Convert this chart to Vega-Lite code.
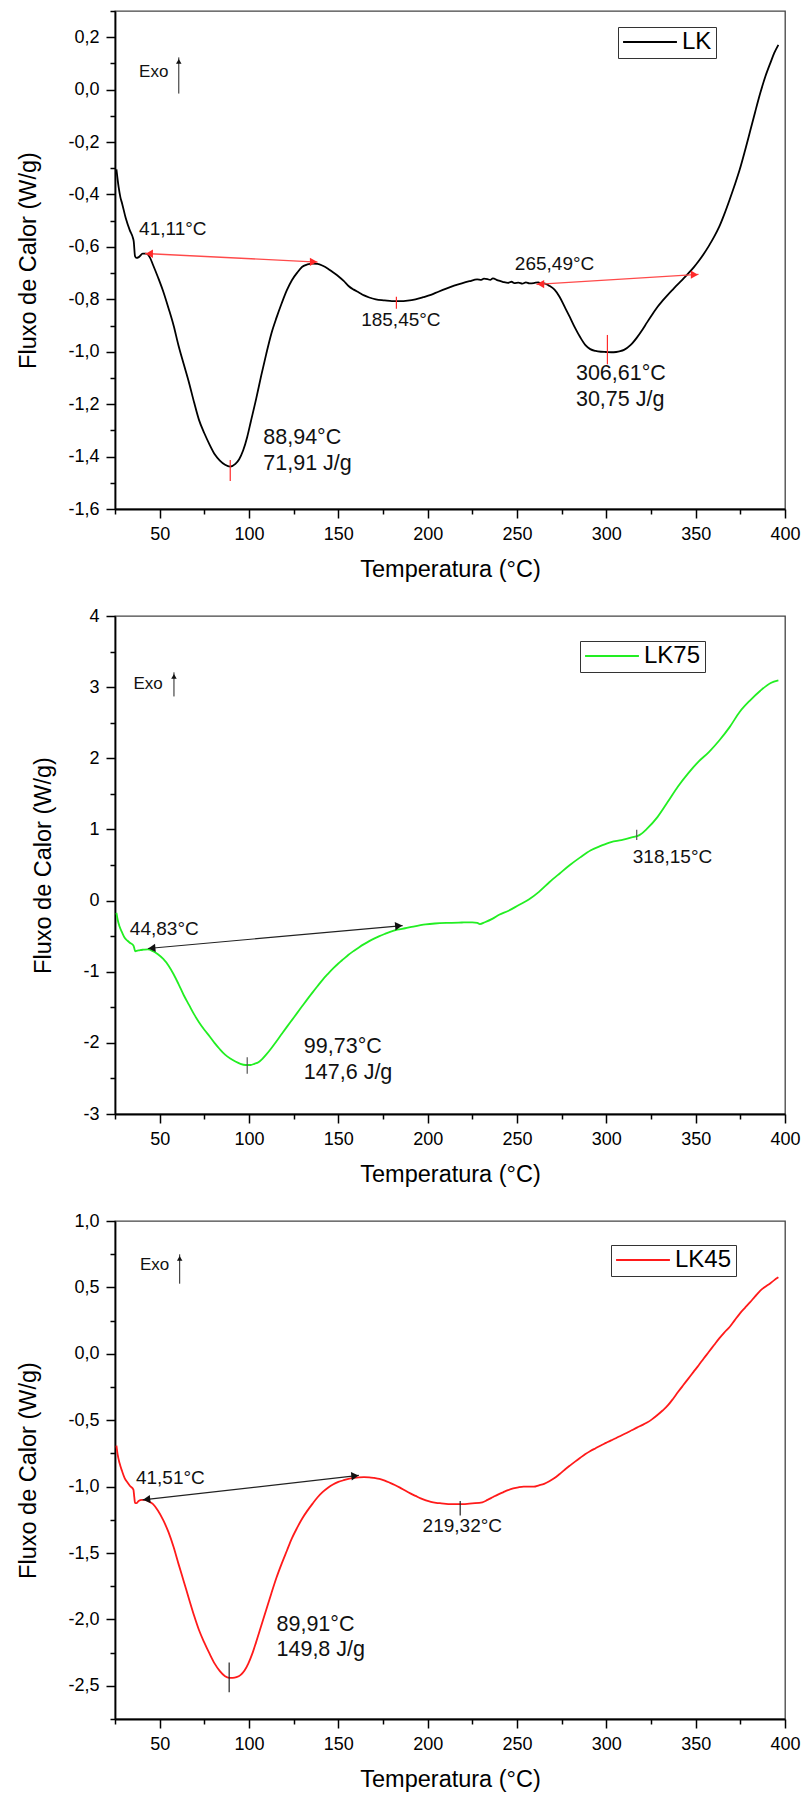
{
  "$schema": "https://vega.github.io/schema/vega-lite/v6.json",
  "padding": {"left": 16, "top": 1, "right": 2, "bottom": 2},
  "background": "white",
  "bounds": "flush",
  "spacing": 107,
  "resolve": {"scale": {"color": "independent", "shape": "independent"}, "legend": {"color": "independent"}},
  "config": {
    "font": "Liberation Sans",
    "view": {"stroke": "#444", "strokeWidth": 1.3},
    "axis": {
      "domainColor": "#000", "domainWidth": 1.8, "tickColor": "#000", "tickWidth": 1.5,
      "labelFont": "Liberation Sans", "labelFontSize": 18, "labelColor": "#000",
      "titleFont": "Liberation Sans", "titleFontSize": 23.5, "titleFontWeight": "normal", "titleColor": "#000",
      "grid": false, "labelOverlap": false, "labelFlush": false
    },
    "legend": {
      "orient": "none", "title": null, "symbolType": "stroke", "symbolSize": 2900, "symbolStrokeWidth": 2,
      "labelFont": "Liberation Sans", "labelFontSize": 24, "labelColor": "#000",
      "strokeColor": "#333", "fillColor": "white", "padding": 4, "clipHeight": 22
    }
  },
  "datasets": {
    "lk": [
      {"series":"LK","T":25.8,"v":-0.304},{"series":"LK","T":27,"v":-0.37},{"series":"LK","T":28,"v":-0.41},{"series":"LK","T":29,"v":-0.435},
      {"series":"LK","T":31,"v":-0.49},{"series":"LK","T":33.3,"v":-0.537},{"series":"LK","T":35,"v":-0.565},{"series":"LK","T":35.5,"v":-0.58},
      {"series":"LK","T":36.2,"v":-0.635},{"series":"LK","T":37,"v":-0.642},{"series":"LK","T":38.5,"v":-0.638},{"series":"LK","T":40.5,"v":-0.626},
      {"series":"LK","T":42.5,"v":-0.626},{"series":"LK","T":44.5,"v":-0.64},{"series":"LK","T":46.3,"v":-0.669},{"series":"LK","T":49,"v":-0.715},
      {"series":"LK","T":52,"v":-0.77},{"series":"LK","T":55,"v":-0.835},{"series":"LK","T":57.8,"v":-0.9},{"series":"LK","T":60.5,"v":-0.975},
      {"series":"LK","T":63.5,"v":-1.048},{"series":"LK","T":66.5,"v":-1.12},{"series":"LK","T":69.3,"v":-1.194},{"series":"LK","T":72,"v":-1.26},
      {"series":"LK","T":75,"v":-1.311},{"series":"LK","T":78,"v":-1.355},{"series":"LK","T":80.8,"v":-1.391},{"series":"LK","T":83.7,"v":-1.415},
      {"series":"LK","T":86.6,"v":-1.431},{"series":"LK","T":89.5,"v":-1.438},{"series":"LK","T":92.4,"v":-1.428},{"series":"LK","T":94.5,"v":-1.41},
      {"series":"LK","T":96.7,"v":-1.377},{"series":"LK","T":99,"v":-1.325},{"series":"LK","T":101,"v":-1.267},{"series":"LK","T":104,"v":-1.18},
      {"series":"LK","T":106.8,"v":-1.092},{"series":"LK","T":109.6,"v":-1.01},{"series":"LK","T":112.5,"v":-0.931},{"series":"LK","T":115.4,"v":-0.87},
      {"series":"LK","T":118.3,"v":-0.815},{"series":"LK","T":121.2,"v":-0.765},{"series":"LK","T":124,"v":-0.727},{"series":"LK","T":127,"v":-0.698},
      {"series":"LK","T":129.8,"v":-0.676},{"series":"LK","T":132.7,"v":-0.667},{"series":"LK","T":135.6,"v":-0.664},{"series":"LK","T":138.4,"v":-0.665},
      {"series":"LK","T":141.3,"v":-0.672},{"series":"LK","T":144.2,"v":-0.683},{"series":"LK","T":147,"v":-0.697},{"series":"LK","T":150,"v":-0.712},
      {"series":"LK","T":153,"v":-0.73},{"series":"LK","T":155.7,"v":-0.749},{"series":"LK","T":158.6,"v":-0.763},{"series":"LK","T":161.5,"v":-0.774},
      {"series":"LK","T":164.4,"v":-0.785},{"series":"LK","T":167.3,"v":-0.793},{"series":"LK","T":171,"v":-0.8},{"series":"LK","T":175.9,"v":-0.804},
      {"series":"LK","T":180,"v":-0.807},{"series":"LK","T":184.5,"v":-0.807},{"series":"LK","T":188.8,"v":-0.805},{"series":"LK","T":193.2,"v":-0.8},
      {"series":"LK","T":197.5,"v":-0.792},{"series":"LK","T":201.8,"v":-0.783},{"series":"LK","T":206,"v":-0.771},{"series":"LK","T":210.4,"v":-0.759},
      {"series":"LK","T":214.8,"v":-0.748},{"series":"LK","T":219.1,"v":-0.739},{"series":"LK","T":223.4,"v":-0.731},{"series":"LK","T":227.7,"v":-0.724},
      {"series":"LK","T":230,"v":-0.726},{"series":"LK","T":231.5,"v":-0.721},{"series":"LK","T":233.5,"v":-0.723},{"series":"LK","T":235,"v":-0.726},
      {"series":"LK","T":236.5,"v":-0.72},{"series":"LK","T":239.3,"v":-0.728},{"series":"LK","T":242,"v":-0.733},{"series":"LK","T":245,"v":-0.737},
      {"series":"LK","T":247,"v":-0.733},{"series":"LK","T":248.5,"v":-0.738},{"series":"LK","T":250.8,"v":-0.736},{"series":"LK","T":253,"v":-0.74},
      {"series":"LK","T":255,"v":-0.735},{"series":"LK","T":257,"v":-0.739},{"series":"LK","T":259.4,"v":-0.738},{"series":"LK","T":262,"v":-0.735},
      {"series":"LK","T":263.5,"v":-0.74},{"series":"LK","T":265.2,"v":-0.739},{"series":"LK","T":268,"v":-0.748},{"series":"LK","T":271,"v":-0.763},
      {"series":"LK","T":273.8,"v":-0.79},{"series":"LK","T":276.7,"v":-0.829},{"series":"LK","T":279.6,"v":-0.868},{"series":"LK","T":282.5,"v":-0.909},
      {"series":"LK","T":285.4,"v":-0.945},{"series":"LK","T":288.3,"v":-0.975},{"series":"LK","T":291,"v":-0.99},{"series":"LK","T":294,"v":-0.997},
      {"series":"LK","T":297,"v":-1.0},{"series":"LK","T":299.8,"v":-1.001},{"series":"LK","T":302.7,"v":-1.002},{"series":"LK","T":305.5,"v":-1.001},
      {"series":"LK","T":307.8,"v":-0.998},{"series":"LK","T":309.9,"v":-0.993},{"series":"LK","T":313.5,"v":-0.975},{"series":"LK","T":317.1,"v":-0.946},
      {"series":"LK","T":320,"v":-0.918},{"series":"LK","T":322.8,"v":-0.888},{"series":"LK","T":325.7,"v":-0.858},{"series":"LK","T":328.6,"v":-0.829},
      {"series":"LK","T":331.5,"v":-0.805},{"series":"LK","T":334.4,"v":-0.783},{"series":"LK","T":337.3,"v":-0.762},{"series":"LK","T":340.1,"v":-0.742},
      {"series":"LK","T":343,"v":-0.722},{"series":"LK","T":345.9,"v":-0.701},{"series":"LK","T":348.8,"v":-0.679},{"series":"LK","T":351.7,"v":-0.654},
      {"series":"LK","T":354.5,"v":-0.627},{"series":"LK","T":357.4,"v":-0.596},{"series":"LK","T":360.3,"v":-0.562},{"series":"LK","T":363.2,"v":-0.523},
      {"series":"LK","T":366,"v":-0.476},{"series":"LK","T":369,"v":-0.42},{"series":"LK","T":371.8,"v":-0.365},{"series":"LK","T":374.7,"v":-0.304},
      {"series":"LK","T":377.6,"v":-0.233},{"series":"LK","T":380.5,"v":-0.158},{"series":"LK","T":383.3,"v":-0.085},{"series":"LK","T":386.2,"v":-0.012},
      {"series":"LK","T":389,"v":0.05},{"series":"LK","T":392,"v":0.105},{"series":"LK","T":394,"v":0.14},{"series":"LK","T":396.3,"v":0.171}
    ],
    "lk75": [
      {"series":"LK75","T":25.8,"v":-0.173},{"series":"LK75","T":26.5,"v":-0.27},{"series":"LK75","T":27.5,"v":-0.362},{"series":"LK75","T":29,"v":-0.45},
      {"series":"LK75","T":30.4,"v":-0.523},{"series":"LK75","T":32,"v":-0.565},{"series":"LK75","T":33.3,"v":-0.593},{"series":"LK75","T":35.3,"v":-0.631},
      {"series":"LK75","T":35.8,"v":-0.67},{"series":"LK75","T":36.3,"v":-0.712},{"series":"LK75","T":37.5,"v":-0.705},{"series":"LK75","T":39,"v":-0.696},
      {"series":"LK75","T":41,"v":-0.69},{"series":"LK75","T":43.4,"v":-0.685},{"series":"LK75","T":46.3,"v":-0.712},{"series":"LK75","T":49,"v":-0.755},
      {"series":"LK75","T":52,"v":-0.82},{"series":"LK75","T":55,"v":-0.915},{"series":"LK75","T":57.8,"v":-1.035},{"series":"LK75","T":60.5,"v":-1.17},
      {"series":"LK75","T":63.5,"v":-1.331},{"series":"LK75","T":66.5,"v":-1.47},{"series":"LK75","T":69.3,"v":-1.6},{"series":"LK75","T":72,"v":-1.71},
      {"series":"LK75","T":75,"v":-1.816},{"series":"LK75","T":78,"v":-1.91},{"series":"LK75","T":80.8,"v":-2.004},{"series":"LK75","T":83.7,"v":-2.09},
      {"series":"LK75","T":86.6,"v":-2.166},{"series":"LK75","T":89.5,"v":-2.22},{"series":"LK75","T":92.4,"v":-2.263},{"series":"LK75","T":95.2,"v":-2.295},
      {"series":"LK75","T":98.1,"v":-2.311},{"series":"LK75","T":101,"v":-2.311},{"series":"LK75","T":103,"v":-2.295},{"series":"LK75","T":105.3,"v":-2.273},
      {"series":"LK75","T":107.5,"v":-2.225},{"series":"LK75","T":109.6,"v":-2.166},{"series":"LK75","T":112.5,"v":-2.075},{"series":"LK75","T":115.4,"v":-1.977},
      {"series":"LK75","T":118.3,"v":-1.875},{"series":"LK75","T":121.2,"v":-1.775},{"series":"LK75","T":124,"v":-1.68},{"series":"LK75","T":126.9,"v":-1.582},
      {"series":"LK75","T":129.8,"v":-1.483},{"series":"LK75","T":132.7,"v":-1.385},{"series":"LK75","T":135.6,"v":-1.29},{"series":"LK75","T":138.4,"v":-1.2},
      {"series":"LK75","T":141.3,"v":-1.11},{"series":"LK75","T":144.2,"v":-1.03},{"series":"LK75","T":147.1,"v":-0.954},{"series":"LK75","T":150,"v":-0.885},
      {"series":"LK75","T":153,"v":-0.82},{"series":"LK75","T":155.7,"v":-0.762},{"series":"LK75","T":158.6,"v":-0.708},{"series":"LK75","T":161.5,"v":-0.658},
      {"series":"LK75","T":164.4,"v":-0.612},{"series":"LK75","T":167.3,"v":-0.57},{"series":"LK75","T":170,"v":-0.535},{"series":"LK75","T":173,"v":-0.5},
      {"series":"LK75","T":175.9,"v":-0.47},{"series":"LK75","T":179,"v":-0.44},{"series":"LK75","T":183,"v":-0.41},{"series":"LK75","T":187.4,"v":-0.389},
      {"series":"LK75","T":192,"v":-0.365},{"series":"LK75","T":198.9,"v":-0.335},{"series":"LK75","T":204,"v":-0.322},{"series":"LK75","T":210.5,"v":-0.313},
      {"series":"LK75","T":219.1,"v":-0.308},{"series":"LK75","T":225,"v":-0.306},{"series":"LK75","T":227.8,"v":-0.312},{"series":"LK75","T":229.2,"v":-0.33},
      {"series":"LK75","T":232,"v":-0.305},{"series":"LK75","T":236.4,"v":-0.254},{"series":"LK75","T":240,"v":-0.2},{"series":"LK75","T":245,"v":-0.146},
      {"series":"LK75","T":250.8,"v":-0.066},{"series":"LK75","T":256.6,"v":0.015},{"series":"LK75","T":262.3,"v":0.123},{"series":"LK75","T":268.1,"v":0.257},
      {"series":"LK75","T":273.9,"v":0.381},{"series":"LK75","T":279.6,"v":0.5},{"series":"LK75","T":285.4,"v":0.607},{"series":"LK75","T":291.1,"v":0.704},
      {"series":"LK75","T":296.9,"v":0.769},{"series":"LK75","T":302.7,"v":0.823},{"series":"LK75","T":308.4,"v":0.85},{"series":"LK75","T":314.2,"v":0.887},
      {"series":"LK75","T":318.5,"v":0.92},{"series":"LK75","T":322.8,"v":1.011},{"series":"LK75","T":328.6,"v":1.173},{"series":"LK75","T":334.4,"v":1.388},
      {"series":"LK75","T":340.1,"v":1.604},{"series":"LK75","T":345.9,"v":1.792},{"series":"LK75","T":351.6,"v":1.954},{"series":"LK75","T":357.4,"v":2.088},
      {"series":"LK75","T":363.2,"v":2.25},{"series":"LK75","T":369,"v":2.438},{"series":"LK75","T":374.7,"v":2.654},{"series":"LK75","T":380.5,"v":2.815},
      {"series":"LK75","T":386.2,"v":2.95},{"series":"LK75","T":392,"v":3.058},{"series":"LK75","T":396.3,"v":3.095}
    ],
    "lk45": [
      {"series":"LK45","T":25.8,"v":-0.691},{"series":"LK45","T":26.5,"v":-0.76},{"series":"LK45","T":27.5,"v":-0.821},{"series":"LK45","T":29,"v":-0.885},
      {"series":"LK45","T":30.4,"v":-0.936},{"series":"LK45","T":32,"v":-0.97},{"series":"LK45","T":33.3,"v":-0.994},{"series":"LK45","T":35.3,"v":-1.022},
      {"series":"LK45","T":35.8,"v":-1.08},{"series":"LK45","T":36.2,"v":-1.123},{"series":"LK45","T":37,"v":-1.125},{"series":"LK45","T":38.2,"v":-1.109},
      {"series":"LK45","T":40,"v":-1.1},{"series":"LK45","T":41.9,"v":-1.1},{"series":"LK45","T":44,"v":-1.112},{"series":"LK45","T":46.3,"v":-1.132},
      {"series":"LK45","T":49,"v":-1.18},{"series":"LK45","T":52,"v":-1.253},{"series":"LK45","T":55,"v":-1.345},{"series":"LK45","T":57.8,"v":-1.455},
      {"series":"LK45","T":60.5,"v":-1.58},{"series":"LK45","T":63.5,"v":-1.714},{"series":"LK45","T":66.5,"v":-1.85},{"series":"LK45","T":69.3,"v":-1.973},
      {"series":"LK45","T":72,"v":-2.08},{"series":"LK45","T":75,"v":-2.175},{"series":"LK45","T":78,"v":-2.26},{"series":"LK45","T":80.8,"v":-2.333},
      {"series":"LK45","T":83.7,"v":-2.39},{"series":"LK45","T":86.6,"v":-2.428},{"series":"LK45","T":88.9,"v":-2.44},{"series":"LK45","T":90.9,"v":-2.44},
      {"series":"LK45","T":93,"v":-2.435},{"series":"LK45","T":95.2,"v":-2.42},{"series":"LK45","T":97.5,"v":-2.385},{"series":"LK45","T":99.6,"v":-2.333},
      {"series":"LK45","T":101.8,"v":-2.26},{"series":"LK45","T":103.9,"v":-2.175},{"series":"LK45","T":106.8,"v":-2.05},{"series":"LK45","T":109.6,"v":-1.93},
      {"series":"LK45","T":112.5,"v":-1.805},{"series":"LK45","T":115.4,"v":-1.685},{"series":"LK45","T":118.3,"v":-1.58},{"series":"LK45","T":121.2,"v":-1.483},
      {"series":"LK45","T":124,"v":-1.39},{"series":"LK45","T":126.9,"v":-1.311},{"series":"LK45","T":129.8,"v":-1.24},{"series":"LK45","T":132.7,"v":-1.181},
      {"series":"LK45","T":135.6,"v":-1.128},{"series":"LK45","T":138.4,"v":-1.08},{"series":"LK45","T":141.3,"v":-1.04},{"series":"LK45","T":144.2,"v":-1.008},
      {"series":"LK45","T":147,"v":-0.984},{"series":"LK45","T":150,"v":-0.965},{"series":"LK45","T":153,"v":-0.952},{"series":"LK45","T":155.7,"v":-0.942},
      {"series":"LK45","T":158.6,"v":-0.935},{"series":"LK45","T":161.5,"v":-0.93},{"series":"LK45","T":164.4,"v":-0.928},{"series":"LK45","T":167.3,"v":-0.93},
      {"series":"LK45","T":170,"v":-0.935},{"series":"LK45","T":173,"v":-0.942},{"series":"LK45","T":176,"v":-0.955},{"series":"LK45","T":178.8,"v":-0.971},
      {"series":"LK45","T":181.6,"v":-0.988},{"series":"LK45","T":184.5,"v":-1.008},{"series":"LK45","T":187.4,"v":-1.03},{"series":"LK45","T":190.3,"v":-1.051},
      {"series":"LK45","T":193.2,"v":-1.07},{"series":"LK45","T":196.1,"v":-1.089},{"series":"LK45","T":199,"v":-1.104},{"series":"LK45","T":201.8,"v":-1.115},
      {"series":"LK45","T":204.7,"v":-1.122},{"series":"LK45","T":207.6,"v":-1.126},{"series":"LK45","T":213.4,"v":-1.132},{"series":"LK45","T":219.1,"v":-1.132},
      {"series":"LK45","T":224.9,"v":-1.126},{"series":"LK45","T":230.6,"v":-1.118},{"series":"LK45","T":233.5,"v":-1.1},{"series":"LK45","T":236.4,"v":-1.08},
      {"series":"LK45","T":239.3,"v":-1.06},{"series":"LK45","T":242.2,"v":-1.043},{"series":"LK45","T":245,"v":-1.027},{"series":"LK45","T":247.9,"v":-1.014},
      {"series":"LK45","T":250.8,"v":-1.005},{"series":"LK45","T":253.7,"v":-1.0},{"series":"LK45","T":256.6,"v":-1.0},{"series":"LK45","T":259.4,"v":-1.0},
      {"series":"LK45","T":262.3,"v":-0.99},{"series":"LK45","T":265.2,"v":-0.979},{"series":"LK45","T":268.1,"v":-0.96},{"series":"LK45","T":271,"v":-0.936},
      {"series":"LK45","T":273.9,"v":-0.905},{"series":"LK45","T":276.7,"v":-0.873},{"series":"LK45","T":279.6,"v":-0.842},{"series":"LK45","T":282.5,"v":-0.812},
      {"series":"LK45","T":285.4,"v":-0.783},{"series":"LK45","T":288.3,"v":-0.755},{"series":"LK45","T":291.1,"v":-0.732},{"series":"LK45","T":294,"v":-0.711},
      {"series":"LK45","T":296.9,"v":-0.69},{"series":"LK45","T":299.8,"v":-0.671},{"series":"LK45","T":302.7,"v":-0.652},{"series":"LK45","T":305.6,"v":-0.634},
      {"series":"LK45","T":308.4,"v":-0.615},{"series":"LK45","T":311.3,"v":-0.596},{"series":"LK45","T":314.2,"v":-0.576},{"series":"LK45","T":317.1,"v":-0.556},
      {"series":"LK45","T":320,"v":-0.537},{"series":"LK45","T":322.8,"v":-0.518},{"series":"LK45","T":325.7,"v":-0.492},{"series":"LK45","T":328.6,"v":-0.461},
      {"series":"LK45","T":331.5,"v":-0.427},{"series":"LK45","T":334.4,"v":-0.389},{"series":"LK45","T":337.3,"v":-0.34},{"series":"LK45","T":340.1,"v":-0.288},
      {"series":"LK45","T":343,"v":-0.237},{"series":"LK45","T":345.9,"v":-0.187},{"series":"LK45","T":348.8,"v":-0.136},{"series":"LK45","T":351.7,"v":-0.086},
      {"series":"LK45","T":354.5,"v":-0.035},{"series":"LK45","T":357.4,"v":0.015},{"series":"LK45","T":360.3,"v":0.066},{"series":"LK45","T":363.2,"v":0.116},
      {"series":"LK45","T":366,"v":0.16},{"series":"LK45","T":369,"v":0.202},{"series":"LK45","T":371.8,"v":0.252},{"series":"LK45","T":374.7,"v":0.303},
      {"series":"LK45","T":377.6,"v":0.346},{"series":"LK45","T":380.5,"v":0.389},{"series":"LK45","T":383.3,"v":0.433},{"series":"LK45","T":386.2,"v":0.476},
      {"series":"LK45","T":389,"v":0.505},{"series":"LK45","T":392,"v":0.533},{"series":"LK45","T":394,"v":0.555},{"series":"LK45","T":396.3,"v":0.576}
    ],
    "ann1": [
      {"kind":"arrow","T":41.9,"v":-0.625,"T2":138.4,"v2":-0.658},
      {"kind":"arrow","T":260.9,"v":-0.743,"T2":351.6,"v2":-0.705},
      {"kind":"head","T":44.2,"v":-0.626,"dir":"left"},
      {"kind":"head","T":136.1,"v":-0.657,"dir":"right"},
      {"kind":"head","T":263.2,"v":-0.742,"dir":"left"},
      {"kind":"head","T":349.3,"v":-0.706,"dir":"right"},
      {"kind":"mark","T":89.5,"v":-1.413,"v2":-1.493},
      {"kind":"mark","T":182.5,"v":-0.79,"v2":-0.836},
      {"kind":"mark","T":300.6,"v":-0.936,"v2":-1.048},
      {"kind":"small","T":38.5,"v":-0.533,"text":"41,11°C"},
      {"kind":"small","T":248.8,"v":-0.666,"text":"265,49°C"},
      {"kind":"center","T":185,"v":-0.88,"text":"185,45°C"},
      {"kind":"big","T":108,"v":-1.33,"text":"88,94°C"},
      {"kind":"big","T":108,"v":-1.43,"text":"71,91 J/g"},
      {"kind":"big","T":283,"v":-1.085,"text":"306,61°C"},
      {"kind":"big","T":283,"v":-1.184,"text":"30,75 J/g"},
      {"kind":"exo","T":38.5,"v":0.069,"text":"Exo"},
      {"kind":"exoline","T":60.7,"v":-0.015,"v2":0.123},
      {"kind":"exohead","T":60.7,"v":0.108,"dir":"up"}
    ],
    "ann2": [
      {"kind":"arrow","T":43.4,"v":-0.674,"T2":186,"v2":-0.351},
      {"kind":"head","T":45.6,"v":-0.669,"dir":"left"},
      {"kind":"head","T":183.8,"v":-0.356,"dir":"right"},
      {"kind":"mark","T":99,"v":-2.204,"v2":-2.435},
      {"kind":"mark","T":317,"v":0.85,"v2":0.995},
      {"kind":"small","T":33.3,"v":-0.405,"text":"44,83°C"},
      {"kind":"small","T":314.8,"v":0.618,"text":"318,15°C"},
      {"kind":"big","T":130.7,"v":-2.058,"text":"99,73°C"},
      {"kind":"big","T":130.7,"v":-2.424,"text":"147,6 J/g"},
      {"kind":"exo","T":35.3,"v":3.047,"text":"Exo"},
      {"kind":"exoline","T":58,"v":2.869,"v2":3.208},
      {"kind":"exohead","T":58,"v":3.15,"dir":"up"}
    ],
    "ann3": [
      {"kind":"arrow","T":40.5,"v":-1.1,"T2":161.5,"v2":-0.916},
      {"kind":"head","T":42.7,"v":-1.097,"dir":"left"},
      {"kind":"head","T":159.3,"v":-0.919,"dir":"right"},
      {"kind":"mark","T":88.9,"v":-2.325,"v2":-2.549},
      {"kind":"mark","T":218.2,"v":-1.109,"v2":-1.218},
      {"kind":"small","T":36.7,"v":-0.936,"text":"41,51°C"},
      {"kind":"center","T":219.4,"v":-1.296,"text":"219,32°C"},
      {"kind":"big","T":115.4,"v":-2.045,"text":"89,91°C"},
      {"kind":"big","T":115.4,"v":-2.232,"text":"149,8 J/g"},
      {"kind":"exo","T":39,"v":0.669,"text":"Exo"},
      {"kind":"exoline","T":61.2,"v":0.528,"v2":0.749},
      {"kind":"exohead","T":61.2,"v":0.719,"dir":"up"}
    ]
  },
  "vconcat": [
    {
      "width": 670, "height": 498,
      "encoding": {
        "x": {"field": "T", "type": "quantitative", "scale": {"domain": [25, 400], "nice": false, "zero": false},
          "axis": {"title": "Temperatura (°C)", "values": [25,50,75,100,125,150,175,200,225,250,275,300,325,350,375,400],
            "labelExpr": "datum.value % 50 === 0 ? format(datum.value, 'd') : ''",
            "tickSize": {"condition": {"test": "datum.value % 50 === 0", "value": 9}, "value": 5},
            "labelPadding": 7, "titlePadding": 14}},
        "y": {"field": "v", "type": "quantitative", "scale": {"domain": [-1.6, 0.3], "nice": false, "zero": false},
          "axis": {"title": "Fluxo de Calor (W/g)", "values": [-1.6,-1.5,-1.4,-1.3,-1.2,-1.1,-1.0,-0.9,-0.8,-0.7,-0.6,-0.5,-0.4,-0.3,-0.2,-0.1,0,0.1,0.2,0.3],
            "labelExpr": "abs(round(datum.value*5) - datum.value*5) < 0.01 ? replace(replace(format(datum.value, '.1f'), '.', ','), '\u2212', '-') : ''",
            "tickSize": {"condition": {"test": "abs(round(datum.value*5) - datum.value*5) < 0.01", "value": 9}, "value": 5},
            "labelPadding": 7, "titlePadding": 27}}
      },
      "layer": [
        {"data": {"name": "lk"}, "mark": {"type": "line", "strokeWidth": 1.8, "interpolate": "monotone"},
          "encoding": {"color": {"field": "series", "type": "nominal", "scale": {"domain": ["LK"], "range": ["#000000"]},
            "legend": {"legendX": 503, "legendY": 16}}}},
        {"data": {"name": "ann1"}, "transform": [{"filter": "datum.kind === 'arrow'"}], "mark": {"type": "rule", "color": "#ff4a4a", "strokeWidth": 1.4},
          "encoding": {"x2": {"field": "T2"}, "y2": {"field": "v2"}}},
        {"data": {"name": "ann1"}, "transform": [{"filter": "datum.kind === 'head'"}], "mark": {"type": "point", "filled": true, "opacity": 1, "color": "#ff2a2a", "size": 70},
          "encoding": {"shape": {"field": "dir", "type": "nominal", "scale": {"domain": ["left", "right", "up"], "range": ["triangle-left", "triangle-right", "triangle-up"]}, "legend": null}}},
        {"data": {"name": "ann1"}, "transform": [{"filter": "datum.kind === 'mark'"}], "mark": {"type": "rule", "color": "#ff2a2a", "strokeWidth": 1.2},
          "encoding": {"y2": {"field": "v2"}}},
        {"data": {"name": "ann1"}, "transform": [{"filter": "datum.kind === 'small'"}], "mark": {"type": "text", "align": "left", "baseline": "middle", "fontSize": 19, "color": "#111"},
          "encoding": {"text": {"field": "text"}}},
        {"data": {"name": "ann1"}, "transform": [{"filter": "datum.kind === 'center'"}], "mark": {"type": "text", "align": "center", "baseline": "middle", "fontSize": 19, "color": "#111"},
          "encoding": {"text": {"field": "text"}}},
        {"data": {"name": "ann1"}, "transform": [{"filter": "datum.kind === 'big'"}], "mark": {"type": "text", "align": "left", "baseline": "middle", "fontSize": 21.5, "color": "#111"},
          "encoding": {"text": {"field": "text"}}},
        {"data": {"name": "ann1"}, "transform": [{"filter": "datum.kind === 'exo'"}], "mark": {"type": "text", "align": "left", "baseline": "middle", "fontSize": 17, "color": "#111"},
          "encoding": {"text": {"field": "text"}}},
        {"data": {"name": "ann1"}, "transform": [{"filter": "datum.kind === 'exoline'"}], "mark": {"type": "rule", "color": "#222", "strokeWidth": 1},
          "encoding": {"y2": {"field": "v2"}}},
        {"data": {"name": "ann1"}, "transform": [{"filter": "datum.kind === 'exohead'"}], "mark": {"type": "point", "filled": true, "opacity": 1, "color": "#111", "size": 30},
          "encoding": {"shape": {"field": "dir", "type": "nominal", "legend": null}}}
      ]
    },
    {
      "width": 670, "height": 498,
      "encoding": {
        "x": {"field": "T", "type": "quantitative", "scale": {"domain": [25, 400], "nice": false, "zero": false},
          "axis": {"title": "Temperatura (°C)", "values": [25,50,75,100,125,150,175,200,225,250,275,300,325,350,375,400],
            "labelExpr": "datum.value % 50 === 0 ? format(datum.value, 'd') : ''",
            "tickSize": {"condition": {"test": "datum.value % 50 === 0", "value": 9}, "value": 5},
            "labelPadding": 7, "titlePadding": 14}},
        "y": {"field": "v", "type": "quantitative", "scale": {"domain": [-3, 4], "nice": false, "zero": false},
          "axis": {"title": "Fluxo de Calor (W/g)", "values": [-3,-2.5,-2,-1.5,-1,-0.5,0,0.5,1,1.5,2,2.5,3,3.5,4],
            "labelExpr": "datum.value % 1 === 0 ? replace(format(datum.value, 'd'), '\u2212', '-') : ''",
            "tickSize": {"condition": {"test": "datum.value % 1 === 0", "value": 9}, "value": 5},
            "labelPadding": 7, "titlePadding": 27}}
      },
      "layer": [
        {"data": {"name": "lk75"}, "mark": {"type": "line", "strokeWidth": 1.8, "interpolate": "monotone"},
          "encoding": {"color": {"field": "series", "type": "nominal", "scale": {"domain": ["LK75"], "range": ["#22ee22"]},
            "legend": {"legendX": 465, "legendY": 25}}}},
        {"data": {"name": "ann2"}, "transform": [{"filter": "datum.kind === 'arrow'"}], "mark": {"type": "rule", "color": "#222", "strokeWidth": 1.2},
          "encoding": {"x2": {"field": "T2"}, "y2": {"field": "v2"}}},
        {"data": {"name": "ann2"}, "transform": [{"filter": "datum.kind === 'head'"}], "mark": {"type": "point", "filled": true, "opacity": 1, "color": "#111", "size": 70, "angle": -5},
          "encoding": {"shape": {"field": "dir", "type": "nominal", "scale": {"domain": ["left", "right", "up"], "range": ["triangle-left", "triangle-right", "triangle-up"]}, "legend": null}}},
        {"data": {"name": "ann2"}, "transform": [{"filter": "datum.kind === 'mark'"}], "mark": {"type": "rule", "color": "#555", "strokeWidth": 1.2},
          "encoding": {"y2": {"field": "v2"}}},
        {"data": {"name": "ann2"}, "transform": [{"filter": "datum.kind === 'small'"}], "mark": {"type": "text", "align": "left", "baseline": "middle", "fontSize": 19, "color": "#111"},
          "encoding": {"text": {"field": "text"}}},
        {"data": {"name": "ann2"}, "transform": [{"filter": "datum.kind === 'big'"}], "mark": {"type": "text", "align": "left", "baseline": "middle", "fontSize": 21.5, "color": "#111"},
          "encoding": {"text": {"field": "text"}}},
        {"data": {"name": "ann2"}, "transform": [{"filter": "datum.kind === 'exo'"}], "mark": {"type": "text", "align": "left", "baseline": "middle", "fontSize": 17, "color": "#111"},
          "encoding": {"text": {"field": "text"}}},
        {"data": {"name": "ann2"}, "transform": [{"filter": "datum.kind === 'exoline'"}], "mark": {"type": "rule", "color": "#222", "strokeWidth": 1},
          "encoding": {"y2": {"field": "v2"}}},
        {"data": {"name": "ann2"}, "transform": [{"filter": "datum.kind === 'exohead'"}], "mark": {"type": "point", "filled": true, "opacity": 1, "color": "#111", "size": 30},
          "encoding": {"shape": {"field": "dir", "type": "nominal", "legend": null}}}
      ]
    },
    {
      "width": 670, "height": 498,
      "encoding": {
        "x": {"field": "T", "type": "quantitative", "scale": {"domain": [25, 400], "nice": false, "zero": false},
          "axis": {"title": "Temperatura (°C)", "values": [25,50,75,100,125,150,175,200,225,250,275,300,325,350,375,400],
            "labelExpr": "datum.value % 50 === 0 ? format(datum.value, 'd') : ''",
            "tickSize": {"condition": {"test": "datum.value % 50 === 0", "value": 9}, "value": 5},
            "labelPadding": 7, "titlePadding": 14}},
        "y": {"field": "v", "type": "quantitative", "scale": {"domain": [-2.75, 1.0], "nice": false, "zero": false},
          "axis": {"title": "Fluxo de Calor (W/g)", "values": [-2.75,-2.5,-2.25,-2,-1.75,-1.5,-1.25,-1,-0.75,-0.5,-0.25,0,0.25,0.5,0.75,1.0],
            "labelExpr": "abs(round(datum.value*2) - datum.value*2) < 0.01 ? replace(replace(format(datum.value, '.1f'), '.', ','), '\u2212', '-') : ''",
            "tickSize": {"condition": {"test": "abs(round(datum.value*2) - datum.value*2) < 0.01", "value": 9}, "value": 5},
            "labelPadding": 7, "titlePadding": 27}}
      },
      "layer": [
        {"data": {"name": "lk45"}, "mark": {"type": "line", "strokeWidth": 1.8, "interpolate": "monotone"},
          "encoding": {"color": {"field": "series", "type": "nominal", "scale": {"domain": ["LK45"], "range": ["#ff1a1a"]},
            "legend": {"legendX": 496, "legendY": 24}}}},
        {"data": {"name": "ann3"}, "transform": [{"filter": "datum.kind === 'arrow'"}], "mark": {"type": "rule", "color": "#222", "strokeWidth": 1.2},
          "encoding": {"x2": {"field": "T2"}, "y2": {"field": "v2"}}},
        {"data": {"name": "ann3"}, "transform": [{"filter": "datum.kind === 'head'"}], "mark": {"type": "point", "filled": true, "opacity": 1, "color": "#111", "size": 70, "angle": -6},
          "encoding": {"shape": {"field": "dir", "type": "nominal", "scale": {"domain": ["left", "right", "up"], "range": ["triangle-left", "triangle-right", "triangle-up"]}, "legend": null}}},
        {"data": {"name": "ann3"}, "transform": [{"filter": "datum.kind === 'mark'"}], "mark": {"type": "rule", "color": "#222", "strokeWidth": 1.2},
          "encoding": {"y2": {"field": "v2"}}},
        {"data": {"name": "ann3"}, "transform": [{"filter": "datum.kind === 'small'"}], "mark": {"type": "text", "align": "left", "baseline": "middle", "fontSize": 19, "color": "#111"},
          "encoding": {"text": {"field": "text"}}},
        {"data": {"name": "ann3"}, "transform": [{"filter": "datum.kind === 'center'"}], "mark": {"type": "text", "align": "center", "baseline": "middle", "fontSize": 19, "color": "#111"},
          "encoding": {"text": {"field": "text"}}},
        {"data": {"name": "ann3"}, "transform": [{"filter": "datum.kind === 'big'"}], "mark": {"type": "text", "align": "left", "baseline": "middle", "fontSize": 21.5, "color": "#111"},
          "encoding": {"text": {"field": "text"}}},
        {"data": {"name": "ann3"}, "transform": [{"filter": "datum.kind === 'exo'"}], "mark": {"type": "text", "align": "left", "baseline": "middle", "fontSize": 17, "color": "#111"},
          "encoding": {"text": {"field": "text"}}},
        {"data": {"name": "ann3"}, "transform": [{"filter": "datum.kind === 'exoline'"}], "mark": {"type": "rule", "color": "#222", "strokeWidth": 1},
          "encoding": {"y2": {"field": "v2"}}},
        {"data": {"name": "ann3"}, "transform": [{"filter": "datum.kind === 'exohead'"}], "mark": {"type": "point", "filled": true, "opacity": 1, "color": "#111", "size": 30},
          "encoding": {"shape": {"field": "dir", "type": "nominal", "legend": null}}}
      ]
    }
  ]
}
